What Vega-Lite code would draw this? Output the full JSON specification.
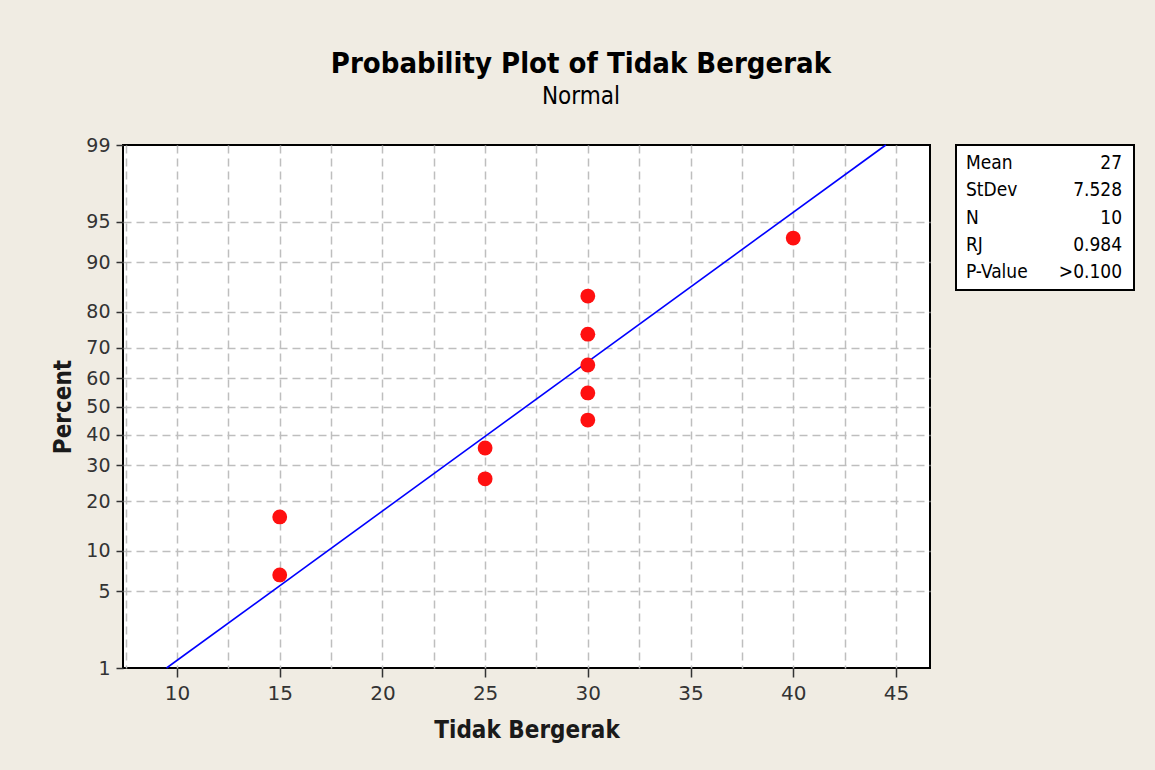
{
  "$schema": "https://vega.github.io/schema/vega-lite/v6.json",
  "background": "#F0ECE3",
  "padding": {"left": 50, "top": 50, "right": 23, "bottom": 35},
  "title": {
    "text": "Probability Plot of Tidak Bergerak",
    "subtitle": "Normal",
    "anchor": "middle",
    "font": "DejaVu Sans Condensed",
    "fontSize": 29,
    "fontWeight": "bold",
    "color": "#000000",
    "subtitleFont": "DejaVu Sans Condensed",
    "subtitleFontSize": 24,
    "subtitleColor": "#000000",
    "subtitlePadding": 6,
    "offset": 26,
    "dx": -12
  },
  "spacing": 26,
  "bounds": "flush",
  "hconcat": [
    {
      "width": 807,
      "height": 523,
      "layer": [
        {
          "data": {"values": [
            {"Tidak Bergerak": 9.49, "Percent": 1},
            {"Tidak Bergerak": 44.51, "Percent": 99}
          ]},
          "transform": [{"calculate": "quantileNormal(datum.Percent / 100)", "as": "z"}],
          "mark": {"type": "line", "color": "#0000FF", "strokeWidth": 1.6},
          "encoding": {
            "x": {
              "field": "Tidak Bergerak",
              "type": "quantitative",
              "scale": {"domain": [7.37, 46.66], "nice": false, "zero": false},
              "axis": {
                "title": "Tidak Bergerak",
                "values": [7.5, 10, 12.5, 15, 17.5, 20, 22.5, 25, 27.5, 30, 32.5, 35, 37.5, 40, 42.5, 45],
                "labelExpr": "datum.value % 5 == 0 ? format(datum.value, 'd') : ''",
                "labelOverlap": false,
                "labelFlush": false,
                "grid": true,
                "gridDash": [8, 5],
                "gridColor": "#BEBEBE",
                "gridWidth": 1.5,
                "domain": false,
                "tickSize": 9,
                "tickWidth": 1.5,
                "tickColor": "#333333",
                "tickOpacity": {"condition": {"test": "datum.value % 5 != 0", "value": 0}, "value": 1},
                "labelFont": "DejaVu Sans",
                "labelFontSize": 20,
                "labelColor": "#333333",
                "labelPadding": 6,
                "titleFont": "DejaVu Sans Condensed",
                "titleFontSize": 24,
                "titleFontWeight": "bold",
                "titleColor": "#1A1A1A",
                "titlePadding": 15
              }
            },
            "y": {
              "field": "z",
              "type": "quantitative",
              "scale": {"domain": [-2.326348, 2.326348], "nice": false, "zero": false},
              "axis": {
                "title": "Percent",
                "values": [-2.326348, -1.644854, -1.281552, -0.841621, -0.524401, -0.253347, 0, 0.253347, 0.524401, 0.841621, 1.281552, 1.644854, 2.326348],
                "labelExpr": "format(cumulativeNormal(datum.value) * 100, '.0f')",
                "labelOverlap": false,
                "labelFlush": false,
                "grid": true,
                "gridDash": [8, 5],
                "gridColor": "#BEBEBE",
                "gridWidth": 1.5,
                "gridOpacity": {"condition": {"test": "abs(datum.value) > 2.3", "value": 0}, "value": 1},
                "domain": false,
                "tickSize": 7,
                "tickWidth": 1.5,
                "tickColor": "#333333",
                "labelFont": "DejaVu Sans",
                "labelFontSize": 19,
                "labelColor": "#333333",
                "labelPadding": 6,
                "titleFont": "DejaVu Sans Condensed",
                "titleFontSize": 24,
                "titleFontWeight": "bold",
                "titleColor": "#1A1A1A",
                "titlePadding": 10
              }
            }
          }
        },
        {
          "data": {"values": [
            {"Tidak Bergerak": 15, "Percent": 6.7},
            {"Tidak Bergerak": 15, "Percent": 16.3},
            {"Tidak Bergerak": 25, "Percent": 26.0},
            {"Tidak Bergerak": 25, "Percent": 35.6},
            {"Tidak Bergerak": 30, "Percent": 45.2},
            {"Tidak Bergerak": 30, "Percent": 54.8},
            {"Tidak Bergerak": 30, "Percent": 64.4},
            {"Tidak Bergerak": 30, "Percent": 74.0},
            {"Tidak Bergerak": 30, "Percent": 83.7},
            {"Tidak Bergerak": 40, "Percent": 93.3}
          ]},
          "transform": [{"calculate": "quantileNormal(datum.Percent / 100)", "as": "z"}],
          "mark": {"type": "circle", "color": "#FF1010", "size": 220, "opacity": 1},
          "encoding": {
            "x": {"field": "Tidak Bergerak", "type": "quantitative"},
            "y": {"field": "z", "type": "quantitative"}
          }
        }
      ]
    },
    {
      "width": 178,
      "height": 145,
      "data": {"values": [
        {"stat": "Mean", "value": "27"},
        {"stat": "StDev", "value": "7.528"},
        {"stat": "N", "value": "10"},
        {"stat": "RJ", "value": "0.984"},
        {"stat": "P-Value", "value": ">0.100"}
      ]},
      "encoding": {
        "y": {"field": "stat", "type": "nominal", "sort": null, "scale": {"type": "point", "padding": 0.64}, "axis": null}
      },
      "layer": [
        {
          "mark": {"type": "text", "align": "left", "baseline": "middle", "font": "DejaVu Sans Condensed", "fontSize": 19, "color": "#000000"},
          "encoding": {
            "x": {"datum": 0.056, "type": "quantitative", "scale": {"domain": [0, 1]}, "axis": null},
            "text": {"field": "stat"}
          }
        },
        {
          "mark": {"type": "text", "align": "right", "baseline": "middle", "font": "DejaVu Sans Condensed", "fontSize": 19, "color": "#000000"},
          "encoding": {
            "x": {"datum": 0.933, "type": "quantitative", "scale": {"domain": [0, 1]}, "axis": null},
            "text": {"field": "value"}
          }
        }
      ]
    }
  ],
  "config": {
    "view": {"stroke": "#000000", "strokeWidth": 2, "fill": "#FFFFFF"}
  }
}
